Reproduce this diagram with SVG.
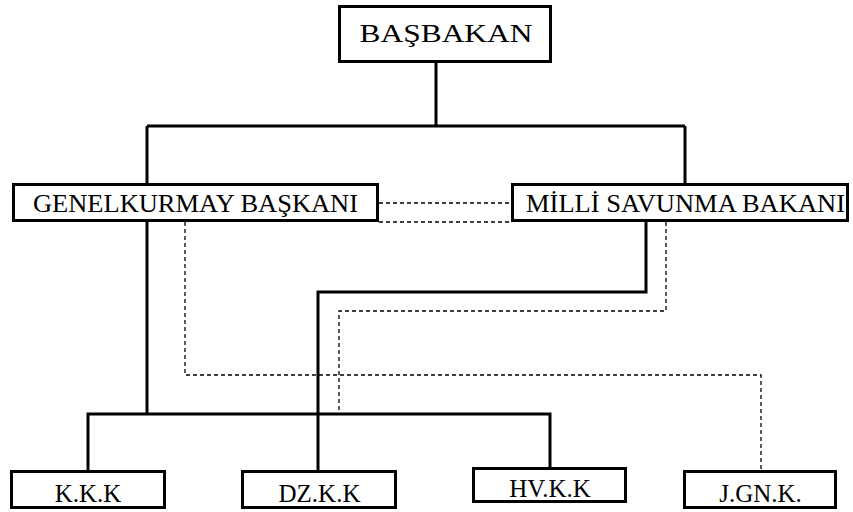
<svg xmlns="http://www.w3.org/2000/svg" width="853" height="512" viewBox="0 0 853 512">
  <style>
    .box { fill: #fff; stroke: #000; stroke-width: 3; }
    .lbl { font-family: "Liberation Serif", "Times New Roman", serif; font-size: 25px; fill: #000; text-anchor: middle; }
    .solid { fill: none; stroke: #000; stroke-width: 3; }
    .dash { fill: none; stroke: #000; stroke-width: 1.3; stroke-dasharray: 4 3; }
  </style>
  <rect width="853" height="512" fill="#fff"/>

  <g id="connectors">
    <path class="solid" d="M436,62 V126 M147,126 H685 M147,126 V183 M685,126 V183"/>
    <path class="solid" d="M147,222 V414 M88,470 V414 H550 V467"/>
    <path class="solid" d="M646,222 V292 H318 V470"/>
    <path class="dash" d="M379,203 H511 M379,222 H511"/>
    <path class="dash" d="M185,222 V375 H761 V470"/>
    <path class="dash" d="M666,222 V311 H339 V414"/>
  </g>

  <g id="basbakan">
    <rect class="box" x="339.5" y="6.5" width="211" height="55"/>
    <text class="lbl" x="446" y="42" font-size="26" textLength="173" lengthAdjust="spacingAndGlyphs">BAŞBAKAN</text>
  </g>
  <g id="genelkurmay">
    <rect class="box" x="13.5" y="184.5" width="364" height="36"/>
    <text class="lbl" x="195.5" y="212" textLength="325" lengthAdjust="spacingAndGlyphs">GENELKURMAY BAŞKANI</text>
  </g>
  <g id="msb">
    <rect class="box" x="512.5" y="184.5" width="335" height="36"/>
    <text class="lbl" x="685.5" y="212" textLength="319" lengthAdjust="spacingAndGlyphs">MİLLİ SAVUNMA BAKANI</text>
  </g>
  <g id="kkk">
    <rect class="box" x="11.5" y="471.5" width="153" height="36"/>
    <text class="lbl" x="88" y="502">K.K.K</text>
  </g>
  <g id="dzkk">
    <rect class="box" x="242.5" y="471.5" width="153" height="36"/>
    <text class="lbl" x="319.5" y="502">DZ.K.K</text>
  </g>
  <g id="hvkk">
    <rect class="box" x="473.5" y="468.5" width="152" height="33"/>
    <text class="lbl" x="550" y="497">HV.K.K</text>
  </g>
  <g id="jgnk">
    <rect class="box" x="684.5" y="471.5" width="151" height="36"/>
    <text class="lbl" x="760.5" y="502">J.GN.K.</text>
  </g>
</svg>
